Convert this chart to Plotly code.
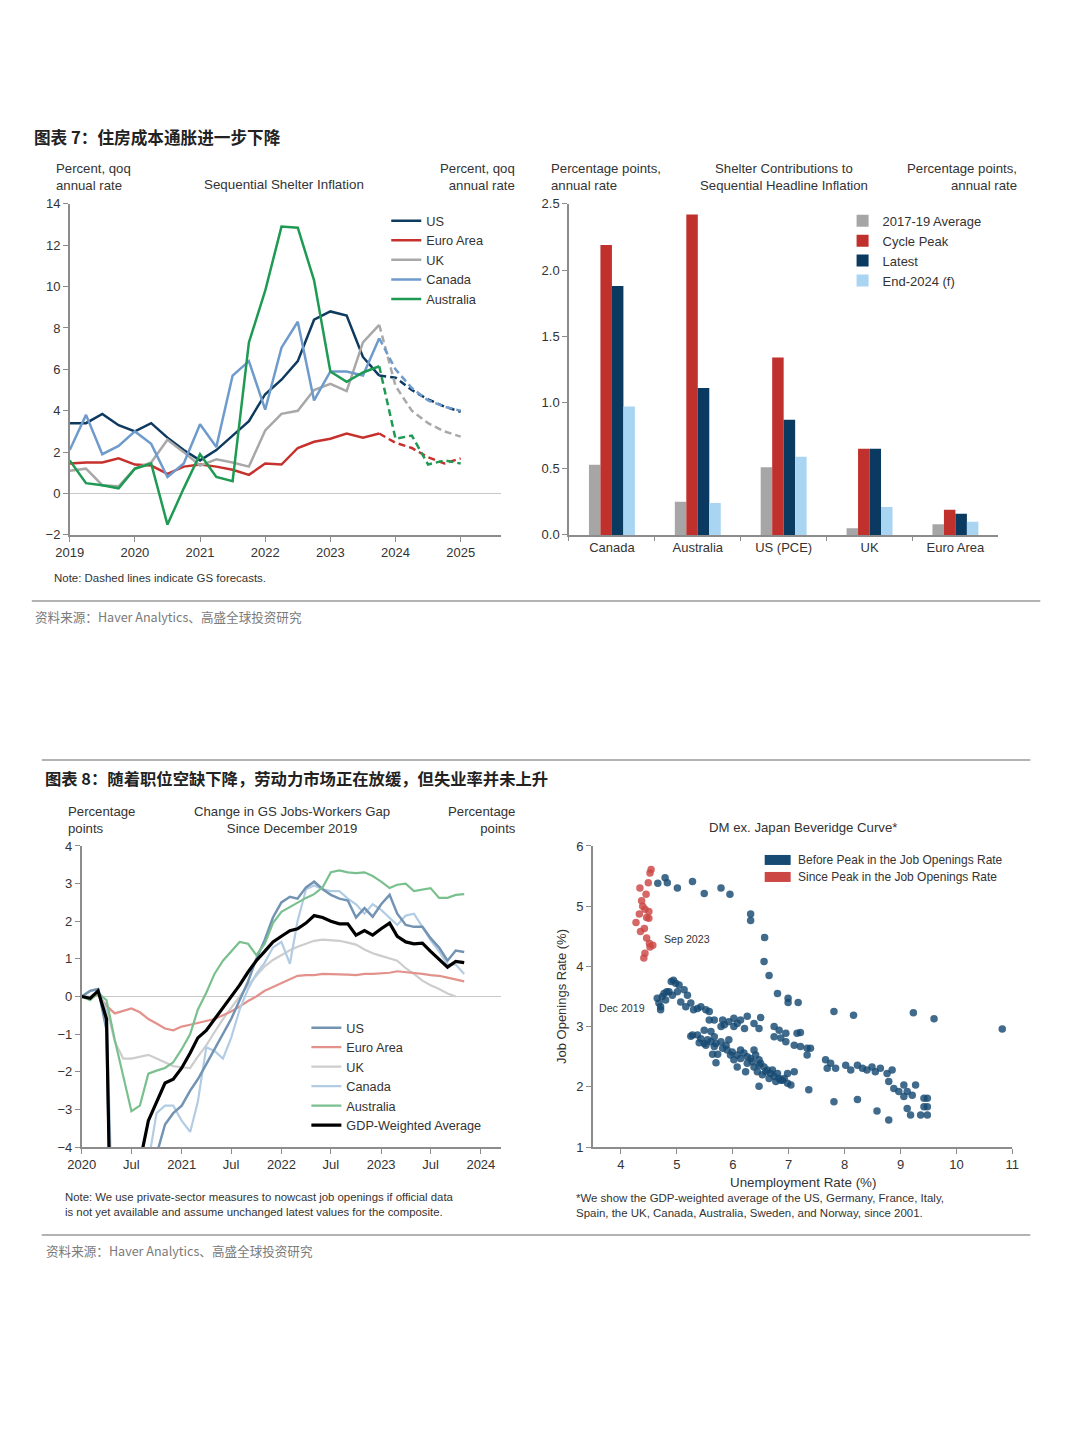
import plotly.graph_objects as go
import pandas as pd

W, H = 1080, 1440
# The photographed page is slightly inset/scaled; these factors map reference pixels to page pixels.
SX, OX = 0.982, 12.2
SY, OY = 0.9894, 7.2
def px(v): return ((v - OX) / SX) / W
def py(v): return 1 - ((v - OY) / SY) / H
FS = 1.0 / ((SX + SY) / 2)
def fs(s): return round(s * FS, 2)

FONT = "Liberation Sans, Arial, Helvetica, sans-serif"
CJK = "Noto Sans CJK SC, Noto Sans, sans-serif"
TXT = "#333333"
AX = "#8C8C8C"

# ---------------- Exhibit 7 (left): Sequential Shelter Inflation ----------------
shelter_quarters = [2019.0, 2019.25, 2019.5, 2019.75, 2020.0, 2020.25, 2020.5, 2020.75,
                    2021.0, 2021.25, 2021.5, 2021.75, 2022.0, 2022.25, 2022.5, 2022.75,
                    2023.0, 2023.25, 2023.5, 2023.75, 2024.0, 2024.25, 2024.5, 2024.75, 2025.0]
forecast_start = 19  # index of last actual quarter (2023Q4); dashed after it
us_shelter = [3.4, 3.4, 3.85, 3.3, 3.0, 3.4, 2.7, 2.1, 1.6, 2.1, 2.8, 3.5, 4.8, 5.5, 6.4, 8.4,
              8.8, 8.6, 6.6, 5.7, 5.6, 5.0, 4.55, 4.2, 3.95]
euro_shelter = [1.45, 1.5, 1.5, 1.7, 1.4, 1.35, 0.95, 1.3, 1.4, 1.3, 1.15, 0.9, 1.45, 1.4, 2.2, 2.5,
                2.65, 2.9, 2.7, 2.9, 2.45, 2.2, 1.75, 1.45, 1.7]
uk_shelter = [1.1, 1.2, 0.4, 0.35, 1.2, 1.5, 2.6, 2.0, 1.35, 1.65, 1.5, 1.3, 3.05, 3.85, 4.0, 5.0,
              5.3, 4.95, 7.3, 8.15, 5.2, 4.0, 3.4, 3.0, 2.75]
canada_shelter = [2.1, 3.8, 1.9, 2.3, 3.0, 2.4, 0.8, 1.45, 3.35, 2.25, 5.7, 6.4, 4.05, 7.05, 8.3, 4.5,
                  5.9, 5.9, 5.7, 7.5, 6.0, 5.1, 4.5, 4.2, 4.0]
australia_shelter = [1.6, 0.5, 0.4, 0.25, 1.2, 1.45, -1.5, 0.25, 1.9, 0.8, 0.6, 7.3, 9.8, 12.9, 12.85, 10.3,
                     5.9, 5.4, 5.85, 6.15, 2.65, 2.8, 1.4, 1.6, 1.45]
shelter_names = ["US", "Euro Area", "UK", "Canada", "Australia"]
shelter_colors = ["#0E3A60", "#C7312D", "#A8A8A8", "#6E9BCB", "#1E9A52"]

# ---------------- Exhibit 7 (right): Shelter contributions ----------------
bar_categories = ["Canada", "Australia", "US (PCE)", "UK", "Euro Area"]
avg_2017_19 = [0.53, 0.25, 0.51, 0.05, 0.08]
cycle_peak = [2.19, 2.42, 1.34, 0.65, 0.19]
latest = [1.88, 1.11, 0.87, 0.65, 0.16]
end_2024_f = [0.97, 0.24, 0.59, 0.21, 0.10]
bar_names = ["2017-19 Average", "Cycle Peak", "Latest", "End-2024 (f)"]
bar_colors = ["#A6A6A6", "#C0302D", "#0B3A60", "#A9D5F2"]

# ---------------- Exhibit 8 (left): Jobs-Workers gap change ----------------
gap_months = pd.date_range("2020-01-01", periods=47, freq="MS")
gap_tickvals = ["2020-01-01", "2020-07-01", "2021-01-01", "2021-07-01", "2022-01-01",
                "2022-07-01", "2023-01-01", "2023-07-01", "2024-01-01"]
gap_ticktext = ["2020", "Jul", "2021", "Jul", "2022", "Jul", "2023", "Jul", "2024"]
us_gap = [0, 0.15, 0.2, -0.9, -12, -14, -12, -9, -6, -4.2,
          -3.4, -3.1, -2.9, -2.5, -2.2, -1.8, -1.4, -1.0, -0.6, -0.1,
          0.4, 1.0, 1.5, 2.1, 2.5, 2.65, 2.6, 2.9, 3.05, 2.85,
          2.7, 2.6, 2.55, 2.1, 2.35, 2.12, 2.45, 2.7, 2.2, 1.9,
          1.85, 1.85, 1.55, 1.3, 0.95, 1.22, 1.18]
euro_gap = [0, -0.05, 0.05, -0.25, -0.45, -0.38, -0.32, -0.42, -0.6, -0.72,
            -0.85, -0.9, -0.8, -0.75, -0.7, -0.65, -0.6, -0.5, -0.4, -0.27,
            -0.12, 0.0, 0.15, 0.25, 0.35, 0.45, 0.55, 0.57, 0.57, 0.6,
            0.6, 0.58, 0.58, 0.57, 0.6, 0.6, 0.62, 0.63, 0.67, 0.65,
            0.63, 0.6, 0.57, 0.55, 0.5, 0.45, 0.4]
uk_gap = [0, 0, 0.1, -0.3, -1.2, -1.65, -1.65, -1.6, -1.55, -1.65,
          -1.75, -1.85, -1.88, -1.9, -1.6, -1.3, -0.95, -0.6, -0.3, 0.0,
          0.3, 0.55, 0.8, 0.97, 1.1, 1.23, 1.32, 1.4, 1.48, 1.51,
          1.5, 1.48, 1.43, 1.38, 1.25, 1.15, 1.08, 1.02, 0.95, 0.75,
          0.6, 0.42, 0.3, 0.2, 0.08, 0.0, None]
canada_gap = [0, 0.15, 0.2, -0.4, -8, -12, -10, -6, -4.4, -3.1,
              -2.9, -2.9, -3.3, -3.6, -2.8, -1.35, -1.45, -1.65, -1.1, -0.35,
              0.2, 0.6, 0.9, 1.3, 1.45, 0.87, 2.0, 2.85, 2.95, 2.85,
              2.8, 2.8, 2.6, 2.45, 2.2, 2.45, 2.3, 2.1, 1.9, 2.15,
              2.2, 1.85, 1.5, 1.2, 0.85, 0.85, 0.6]
australia_gap = [0, -0.1, 0.1, -0.1, -1.15, -2.1, -3.05, -2.9, -2.05, -1.97,
                 -1.9, -1.75, -1.4, -1.0, -0.35, 0.1, 0.6, 0.95, 1.2, 1.45,
                 1.4, 1.1, 1.4, 1.95, 2.25, 2.38, 2.5, 2.62, 2.72, 2.9,
                 3.3, 3.35, 3.3, 3.28, 3.3, 3.2, 3.05, 2.88, 2.97, 3.0,
                 2.8, 2.85, 2.88, 2.62, 2.62, 2.7, 2.72]
gdp_weighted_gap = [0, -0.05, 0.15, -0.6, -12, -13, -10, -4.4, -3.3, -2.8,
                    -2.3, -2.2, -1.9, -1.5, -1.1, -0.9, -0.6, -0.3, 0.0, 0.3,
                    0.65, 0.95, 1.2, 1.45, 1.6, 1.75, 1.8, 1.95, 2.15, 2.1,
                    2.0, 1.93, 1.93, 1.63, 1.75, 1.63, 1.8, 1.95, 1.6, 1.45,
                    1.4, 1.42, 1.2, 1.0, 0.78, 0.93, 0.9]

# ---------------- Exhibit 8 (right): Beveridge curve ----------------
before_unemp = [4.66, 4.79, 4.83, 5.01, 5.28, 5.49, 5.79, 5.95, 6.32, 6.32, 6.57, 6.56, 6.65, 6.80, 6.99, 6.99,
                7.17, 7.81, 8.16, 9.23, 9.60, 10.82,
                4.65, 4.68, 4.71, 4.74, 4.77, 4.82, 4.86, 4.90, 4.94, 4.98, 5.01, 5.04, 5.13, 5.19, 5.25, 5.30,
                5.37, 5.43, 5.52, 5.58, 5.67, 5.82, 5.93, 6.08, 6.14, 6.26, 6.38, 6.47, 6.50, 5.49, 5.28, 4.71,
                4.80, 4.92, 5.07, 5.16, 5.58, 5.61, 5.79, 6.02, 6.21, 6.74, 6.83, 6.95, 7.21, 6.02, 5.85, 5.37,
                5.67,
                5.25, 5.40, 5.49, 5.55, 5.61, 5.70, 5.79, 5.88, 5.93, 5.64, 5.73, 5.70, 5.90, 5.99, 6.08, 6.14,
                6.20, 6.26, 6.32, 6.38, 6.41, 6.47, 6.50, 6.56, 6.62, 6.68, 6.74, 6.83, 6.89, 6.98, 7.04, 6.98,
                6.08, 6.23, 6.47, 6.74, 6.86, 6.95, 7.10, 7.21, 7.33, 7.39, 7.15, 7.33, 7.36, 7.66, 7.75, 7.69,
                7.84, 8.02, 8.11, 8.23, 8.32, 8.40, 8.49, 8.55, 8.64, 8.76, 8.85, 8.79, 8.88, 8.97, 9.06, 9.12,
                9.21, 9.06, 9.27, 9.42, 9.48, 9.42, 9.48, 9.18, 9.36, 9.48, 7.81, 8.23, 8.58, 8.79, 9.12,
                5.43, 5.52, 5.67, 5.82, 6.02, 6.26, 6.38, 6.44, 6.53, 6.59, 6.65, 6.71, 6.77, 6.80, 6.86, 6.92,
                7.10, 6.47, 6.35, 6.14, 5.96]
before_openings = [5.38, 5.47, 5.39, 5.30, 5.41, 5.21, 5.30, 5.20, 4.87, 4.76, 4.48, 4.08, 3.85, 3.55, 3.47, 3.40,
                   3.40, 3.25, 3.19, 3.23, 3.13, 2.96,
                   3.47, 3.39, 3.28, 3.50, 3.55, 3.58, 3.58, 3.75, 3.77, 3.72, 3.58, 3.69, 3.61, 3.52, 3.39, 3.28,
                   3.30, 3.33, 3.28, 3.25, 3.11, 3.11, 3.08, 3.05, 3.11, 3.17, 3.05, 2.97, 3.15, 2.94, 2.86, 3.33,
                   3.44, 3.52, 3.41, 3.33, 3.11, 2.92, 3.00, 3.00, 2.97, 3.00, 2.94, 2.89, 2.90, 3.14, 3.03, 2.86,
                   2.83,
                   2.84, 2.73, 2.72, 2.78, 2.75, 2.72, 2.75, 2.69, 2.78, 2.54, 2.54, 2.40, 2.61, 2.58, 2.53, 2.61,
                   2.56, 2.50, 2.47, 2.61, 2.53, 2.45, 2.39, 2.33, 2.28, 2.22, 2.17, 2.14, 2.11, 2.06, 2.03, 2.22,
                   2.33, 2.25, 2.01, 2.83, 2.81, 2.75, 2.69, 2.67, 2.64, 2.64, 2.89, 2.53, 1.95, 2.45, 2.39, 2.31,
                   2.31, 2.36, 2.28, 2.36, 2.31, 2.28, 2.33, 2.25, 2.31, 2.22, 2.28, 2.09, 1.97, 1.92, 2.03, 1.92,
                   1.86, 1.84, 2.03, 1.81, 1.81, 1.67, 1.67, 1.53, 1.53, 1.53, 1.75, 1.79, 1.60, 1.45, 1.64,
                   2.80, 2.69, 2.67, 2.64, 2.45, 2.39, 2.33, 2.25, 2.20, 2.25, 2.14, 2.28, 2.09, 2.22, 2.11, 2.14,
                   2.25, 2.36, 2.42, 2.47, 2.53]
since_unemp = [4.54, 4.52, 4.49, 4.34, 4.45, 4.37, 4.39, 4.43, 4.50, 4.33, 4.46, 4.27, 4.50, 4.42, 4.35,
               4.46, 4.51, 4.57, 4.43, 4.41, 4.52]
since_openings = [5.61, 5.55, 5.39, 5.30, 5.20, 5.09, 5.00, 4.95, 4.91, 4.87, 4.81, 4.73, 4.80, 4.63, 4.58,
                  4.47, 4.38, 4.35, 4.22, 4.14, 4.32]

fig = go.Figure()

# Exhibit 7 left lines
for name, vals, color in zip(shelter_names,
                             [us_shelter, euro_shelter, uk_shelter, canada_shelter, australia_shelter],
                             shelter_colors):
    fig.add_trace(go.Scatter(x=shelter_quarters[:forecast_start + 1], y=vals[:forecast_start + 1],
                             mode="lines", name=name, line=dict(color=color, width=2.5),
                             xaxis="x", yaxis="y", legend="legend"))
    fig.add_trace(go.Scatter(x=shelter_quarters[forecast_start:], y=vals[forecast_start:],
                             mode="lines", name=name + " (f)", showlegend=False,
                             line=dict(color=color, width=2.5, dash="7px,4px"),
                             xaxis="x", yaxis="y"))

# Exhibit 7 right bars
for name, vals, color in zip(bar_names, [avg_2017_19, cycle_peak, latest, end_2024_f], bar_colors):
    fig.add_trace(go.Bar(x=bar_categories, y=vals, name=name, marker=dict(color=color, line=dict(width=0)),
                         xaxis="x2", yaxis="y3", legend="legend2"))

# Exhibit 8 left lines (draw order), legend order via legendrank
gap_series = [
    ("UK", uk_gap, "#CDCDCD", 2.2, 3),
    ("Euro Area", euro_gap, "#E2928B", 2.2, 2),
    ("Canada", canada_gap, "#B2CCE4", 2.2, 4),
    ("US", us_gap, "#7393B3", 2.5, 1),
    ("Australia", australia_gap, "#79C08E", 2.2, 5),
    ("GDP-Weighted Average", gdp_weighted_gap, "#000000", 3.2, 6),
]
for name, vals, color, wdt, rank in gap_series:
    fig.add_trace(go.Scatter(x=gap_months, y=vals, mode="lines", name=name,
                             line=dict(color=color, width=wdt), legendrank=rank,
                             xaxis="x3", yaxis="y5", legend="legend3", connectgaps=False))

# Exhibit 8 right scatter
fig.add_trace(go.Scatter(x=before_unemp, y=before_openings, mode="markers",
                         name="Before Peak in the Job Openings Rate", showlegend=False,
                         marker=dict(color="#174B73", size=7.5, opacity=0.82, line=dict(width=0)),
                         xaxis="x4", yaxis="y7"))
fig.add_trace(go.Scatter(x=since_unemp, y=since_openings, mode="markers",
                         name="Since Peak in the Job Openings Rate", showlegend=False,
                         marker=dict(color="#CC4744", size=7.5, opacity=0.82, line=dict(width=0)),
                         xaxis="x4", yaxis="y7"))

tickfont = dict(family=FONT, size=fs(12.8), color=TXT)
axis_common = dict(showline=True, linecolor=AX, linewidth=1.5, ticks="outside", ticklen=5,
                   tickcolor=AX, tickwidth=1.2, tickfont=tickfont, showgrid=False, zeroline=False)

top_dom = [py(535), py(204)]
bot_dom = [py(1147), py(846)]

fig.update_layout(
    width=W, height=H, margin=dict(l=0, r=0, t=0, b=0),
    paper_bgcolor="white", plot_bgcolor="white",
    font=dict(family=FONT, size=12, color=TXT),
    barmode="group", bargap=0.465, bargroupgap=0,
    xaxis=dict(domain=[px(68), px(500)], range=[2019, 2025.62], anchor="y",
               tickvals=[2019, 2020, 2021, 2022, 2023, 2024, 2025], tickformat="d", **axis_common),
    yaxis=dict(domain=top_dom, range=[-2, 14], dtick=2, anchor="x",
               **{**axis_common, "zeroline": True, "zerolinecolor": "#C8C8C8", "zerolinewidth": 1}),
    yaxis2=dict(overlaying="y", side="right", anchor="x", range=[-2, 14], dtick=2, **axis_common),
    xaxis2=dict(domain=[px(568), px(998)], anchor="y3", type="category", tickson="boundaries",
                **{**axis_common, "ticklen": 4}),
    yaxis3=dict(domain=top_dom, range=[0, 2.5], dtick=0.5, tickformat=".1f", anchor="x2", **axis_common),
    yaxis4=dict(overlaying="y3", side="right", anchor="x2", range=[0, 2.5], dtick=0.5,
                tickformat=".1f", **axis_common),
    xaxis3=dict(domain=[px(80), px(500)], anchor="y5", type="date",
                range=["2020-01-01", "2024-03-15"], tickvals=gap_tickvals, ticktext=gap_ticktext,
                **axis_common),
    yaxis5=dict(domain=bot_dom, range=[-4, 4], dtick=1, anchor="x3",
                **{**axis_common, "zeroline": True, "zerolinecolor": "#C8C8C8", "zerolinewidth": 1}),
    yaxis6=dict(overlaying="y5", side="right", anchor="x3", range=[-4, 4], dtick=1, **axis_common),
    xaxis4=dict(domain=[px(592), px(1012)], anchor="y7", range=[3.5, 11],
                tickvals=[4, 5, 6, 7, 8, 9, 10, 11], **axis_common),
    yaxis7=dict(domain=bot_dom, range=[1, 6], dtick=1, anchor="x4", **axis_common),
    legend=dict(x=px(385), y=py(206), xanchor="left", yanchor="top", bgcolor="rgba(0,0,0,0)",
                font=dict(family=FONT, size=fs(12.6), color=TXT), tracegroupgap=0, itemwidth=30),
    legend2=dict(x=px(842), y=py(206), xanchor="left", yanchor="top", bgcolor="rgba(0,0,0,0)",
                 font=dict(family=FONT, size=fs(12.8), color=TXT), tracegroupgap=0),
    legend3=dict(x=px(305), y=py(1013), xanchor="left", yanchor="top", bgcolor="rgba(0,0,0,0)",
                 font=dict(family=FONT, size=fs(12.5), color=TXT), tracegroupgap=0, itemwidth=30),
    showlegend=True,
)

ann = []
def note(x, y, text, size=12, xanchor="left", align="left", color=TXT, family=FONT, yanchor="middle", **kw):
    ann.append(dict(x=px(x), y=py(y), xref="paper", yref="paper", text=text, showarrow=False,
                    xanchor=xanchor, yanchor=yanchor, align=align,
                    font=dict(size=fs(size), color=color, family=family), **kw))

# Headers
note(30, 137, "<b>图表 7：住房成本通胀进一步下降</b>", size=16.4, color="#222222", family=CJK)
note(41, 778, "<b>图表 8：随着职位空缺下降，劳动力市场正在放缓，但失业率并未上升</b>", size=16.1,
     color="#222222", family=CJK)

# Exhibit 7 titles
note(52, 177.5, "Percent, qoq<br>annual rate", size=13)
note(283, 185, "Sequential Shelter Inflation", size=13.2, xanchor="center", align="center")
note(516, 177.5, "Percent, qoq<br>annual rate", size=13, xanchor="right", align="right")
note(548, 177.5, "Percentage points,<br>annual rate", size=13)
note(783, 177.5, "Shelter Contributions to<br>Sequential Headline Inflation", size=13,
     xanchor="center", align="center")
note(1019, 177.5, "Percentage points,<br>annual rate", size=13, xanchor="right", align="right")
note(50, 578, "Note: Dashed lines indicate GS forecasts.", size=11.3)
note(31, 617, "资料来源：Haver Analytics、高盛全球投资研究", size=12.4, color="#7A7A7A", family=CJK)

# Exhibit 8 titles
note(64, 820, "Percentage<br>points", size=13)
note(291, 820, "Change in GS Jobs-Workers Gap<br>Since December 2019", size=13,
     xanchor="center", align="center")
note(517, 820, "Percentage<br>points", size=13, xanchor="right", align="right")
note(802, 828, "DM ex. Japan Beveridge Curve*", size=13, xanchor="center", align="center")
note(61, 1204.5, "Note: We use private-sector measures to nowcast job openings if official data<br>"
     "is not yet available and assume unchanged latest values for the composite.", size=11.2)
note(573, 1205.5, "*We show the GDP-weighted average of the US, Germany, France, Italy,<br>"
     "Spain, the UK, Canada, Australia, Sweden, and Norway, since 2001.", size=11.3)
note(42, 1250, "资料来源：Haver Analytics、高盛全球投资研究", size=12.4, color="#7A7A7A", family=CJK)

# Beveridge curve axis titles and legend
note(561, 996, "Job Openings Rate (%)", size=12.8, xanchor="center", align="center", textangle=-90)
note(802, 1182, "Unemployment Rate (%)", size=13.2, xanchor="center", align="center")
note(795, 860, "Before Peak in the Job Openings Rate", size=11.8)
note(795, 877, "Since Peak in the Job Openings Rate", size=11.8)

# Data-anchored labels
ann.append(dict(x=4.74, y=4.46, xref="x4", yref="y7", text="Sep 2023", showarrow=False,
                xanchor="left", font=dict(size=fs(10.5), color=TXT, family=FONT)))
ann.append(dict(x=3.58, y=3.31, xref="x4", yref="y7", text="Dec 2019", showarrow=False,
                xanchor="left", font=dict(size=fs(10.5), color=TXT, family=FONT)))

shapes = [
    dict(type="line", xref="paper", yref="paper", x0=px(30), x1=px(1040), y0=py(601), y1=py(601),
         line=dict(color="#9A9A9A", width=1.5)),
    dict(type="line", xref="paper", yref="paper", x0=px(40), x1=px(1030), y0=py(760), y1=py(760),
         line=dict(color="#9A9A9A", width=1.5)),
    dict(type="line", xref="paper", yref="paper", x0=px(40), x1=px(1030), y0=py(1235), y1=py(1235),
         line=dict(color="#9A9A9A", width=1.5)),
    dict(type="rect", xref="paper", yref="paper", x0=px(764), x1=px(790), y0=py(865), y1=py(855),
         fillcolor="#174B73", line=dict(width=0)),
    dict(type="rect", xref="paper", yref="paper", x0=px(764), x1=px(790), y0=py(882), y1=py(872),
         fillcolor="#CC4744", line=dict(width=0)),
]

fig.update_layout(annotations=ann, shapes=shapes)
fig.write_html("out.html", config={"displayModeBar": False},
               post_script="document.body.style.margin='0';document.body.style.padding='0';"
                           "document.documentElement.style.margin='0';"
                           "document.documentElement.style.overflow='hidden';")
